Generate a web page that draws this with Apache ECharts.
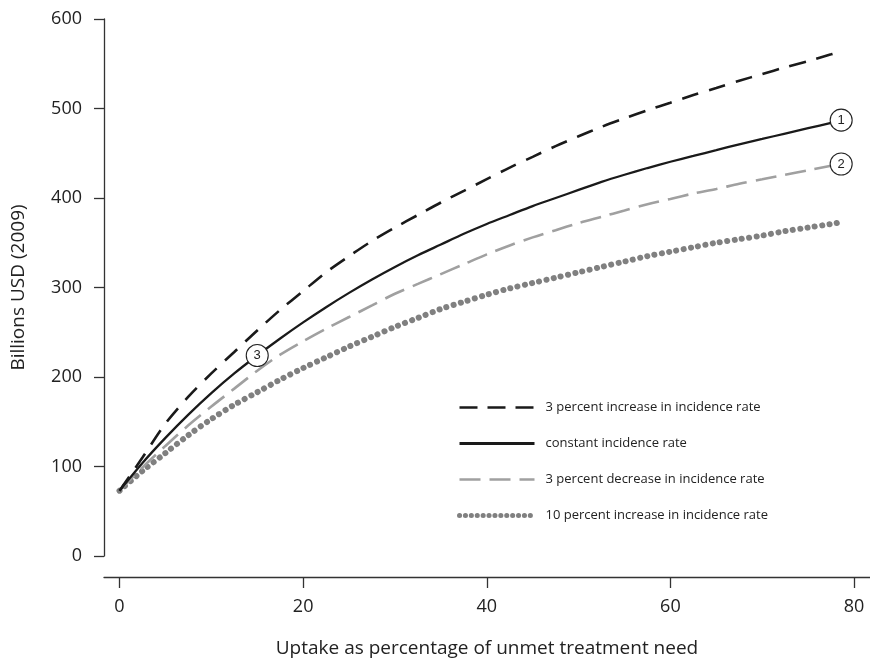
<!DOCTYPE html>
<html>
<head>
<meta charset="utf-8">
<script src="https://cdn.jsdelivr.net/npm/echarts@6/dist/echarts.min.js"></script>
<style>html,body{margin:0;padding:0;background:#fff}#c{width:870px;height:663px}</style>
</head>
<body>
<div id="c"></div>
<script>
// Data
var uptake = [0,2.5,5,7.5,10,12.5,15,17.5,20,22.5,25,27.5,30,32.5,35,37.5,40,42.5,45,47.5,50,52.5,55,57.5,60,62.5,65,67.5,70,72.5,75,77.5,78.6];
var incr3 = [73,110,148,178,204,228,252,275,296,317,335,352,367,381,395,408,421,434,446,458,469,479.5,489,498,506.5,515,523,531,538.5,546,553,560.5,564];
var constant = [73,104,132,158,182,204,224,243,261,278,294,309,323,336,348,360,371,381,391,400,409,418,426,433.5,440.5,447,453.5,460,466,472,478,484,487];
var decr3 = [73,99,123,146,167,187,207,225,240,254,267,280,293,304,315,326,337,347,356,364,372,379,386,393,399,405,410,416,421,426,431,436,438];
var incr10 = [73,95,115,135,153,169,183,197,210,222,234,245,256,266,276,284,292,299,305,311,317,323,329,335,340,345,350,354,358,363,367,371,373];
var xTicks = [0,20,40,60,80];
var seriesNames = ['3 percent increase in incidence rate','constant incidence rate','3 percent decrease in incidence rate','10 percent increase in incidence rate'];
var circle3At = 6; // index in uptake (x = 15)

function pairs(ys){ return uptake.map(function(x,i){ return [x, ys[i]]; }); }
var last = uptake.length - 1;
var FONT = 'Open Sans';
var markStyle = {
  symbol: 'circle', symbolSize: 22, silent: true,
  itemStyle: {color: '#fff', borderColor: '#222', borderWidth: 1.1},
  label: {show: true, position: 'inside', formatter: '{b}', color: '#222', fontSize: 13, fontFamily: 'Liberation Sans'}
};
var hidden = {opacity: 0};

var chart = echarts.init(document.getElementById('c'));
chart.setOption({
  animation: false,
  backgroundColor: '#fff',
  grid: {left: 104, right: 0, top: 19, bottom: 106, containLabel: false},
  xAxis: {
    type: 'value', min: -1.69, max: 81.74, offset: 21,
    name: 'Uptake as percentage of unmet treatment need',
    nameLocation: 'middle', nameGap: 62,
    nameTextStyle: {fontFamily: FONT, fontSize: 19, color: '#222'},
    axisLine: {show: true, onZero: false, lineStyle: {color: '#333', width: 1.3}},
    axisTick: {show: true, length: 11, customValues: xTicks, lineStyle: {color: '#333', width: 1.3}},
    axisLabel: {customValues: xTicks, margin: 21, fontFamily: FONT, fontSize: 18, color: '#222'},
    splitLine: {show: false}
  },
  yAxis: {
    type: 'value', min: 0, max: 600, interval: 100,
    name: 'Billions USD (2009)', nameLocation: 'middle', nameGap: 76,
    nameTextStyle: {fontFamily: FONT, fontSize: 19, color: '#222'},
    axisLine: {show: true, onZero: false, lineStyle: {color: '#333', width: 1.3}},
    axisTick: {show: true, length: 10, lineStyle: {color: '#333', width: 1.3}},
    axisLabel: {margin: 22, fontFamily: FONT, fontSize: 18, color: '#222'},
    splitLine: {show: false}
  },
  legend: {
    orient: 'vertical', left: 452, top: 396,
    itemWidth: 75, itemHeight: 14, itemGap: 23,
    textStyle: {fontFamily: FONT, fontSize: 13, color: '#222', padding: [0,0,0,6]},
    data: [
      {name: seriesNames[0], itemStyle: hidden, lineStyle: {color: '#1a1a1a', width: 2.6, type: [18, 10]}},
      {name: seriesNames[1], itemStyle: hidden, lineStyle: {color: '#1a1a1a', width: 2.8, type: 'solid'}},
      {name: seriesNames[2], itemStyle: hidden, lineStyle: {color: '#a0a0a0', width: 2.6, type: [21, 9]}},
      {name: seriesNames[3], itemStyle: hidden, lineStyle: {color: '#808080', width: 5, type: [0.1, 5.8], cap: 'round'}}
    ]
  },
  series: [
    {name: seriesNames[3], type: 'line', data: pairs(incr10), smooth: 0.3, symbol: 'none',
     lineStyle: {color: '#808080', width: 6, type: [0.1, 7.3], cap: 'round'}, itemStyle: {color: '#808080'}},
    {name: seriesNames[2], type: 'line', data: pairs(decr3), smooth: 0.3, symbol: 'none',
     lineStyle: {color: '#a0a0a0', width: 2.6, type: [21, 9]}, itemStyle: {color: '#a0a0a0'},
     markPoint: Object.assign({data: [{name: '2', coord: [uptake[last], decr3[last]]}]}, markStyle)},
    {name: seriesNames[0], type: 'line', data: pairs(incr3), smooth: 0.3, symbol: 'none',
     lineStyle: {color: '#1a1a1a', width: 2.6, type: [17, 11]}, itemStyle: {color: '#1a1a1a'}},
    {name: seriesNames[1], type: 'line', data: pairs(constant), smooth: 0.3, symbol: 'none',
     lineStyle: {color: '#1a1a1a', width: 2.3, type: 'solid'}, itemStyle: {color: '#1a1a1a'},
     markPoint: Object.assign({data: [
       {name: '1', coord: [uptake[last], constant[last]]},
       {name: '3', coord: [uptake[circle3At], constant[circle3At]]}
     ]}, markStyle)}
  ]
});
</script>
</body>
</html>
